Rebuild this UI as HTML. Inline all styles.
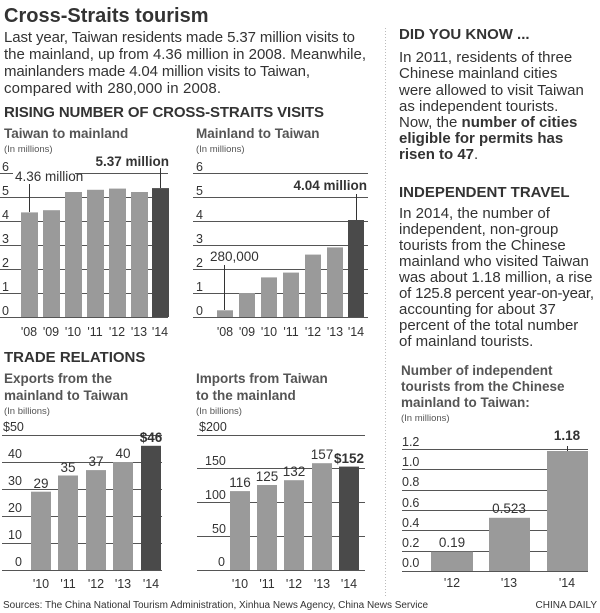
<!DOCTYPE html>
<html><head><meta charset="utf-8"><style>
body{margin:0;background:#fff}
svg{display:block}
text{font-family:"Liberation Sans",sans-serif;fill:#333}
.b{font-weight:bold}
.t{font-size:13.5px;font-weight:bold;fill:#555}
.s{font-size:9.5px;fill:#555}
.a{font-size:12.5px;fill:#777}
.p{font-size:15px;fill:#333}
.v{font-size:13.5px;fill:#333}
.g{stroke:#555;stroke-width:1}
.l{fill:#9a9a9a}.d{fill:#4a4a4a}
</style></head><body>
<svg width="600" height="613" viewBox="0 0 600 613" xmlns="http://www.w3.org/2000/svg">
<text x="4" y="22" class="b" font-size="20" fill="#222">Cross-Straits tourism</text>
<text class="p" x="4" y="42" textLength="351">Last year, Taiwan residents made 5.37 million visits to</text>
<text class="p" x="4" y="59" textLength="362">the mainland, up from 4.36 million in 2008. Meanwhile,</text>
<text class="p" x="4" y="76" textLength="306">mainlanders made 4.04 million visits to Taiwan,</text>
<text class="p" x="4" y="93" textLength="217">compared with 280,000 in 2008.</text>
<text x="4" y="117" class="b" font-size="15" textLength="320" fill="#222">RISING NUMBER OF CROSS-STRAITS VISITS</text>
<line x1="385.5" y1="28" x2="385.5" y2="598" stroke="#bbb" stroke-dasharray="1,2"/>

<!-- chart 1 -->
<text x="4" y="138" class="t">Taiwan to mainland</text>
<text x="4" y="152" class="s">(In millions)</text>
<g class="g">
<line x1="0" x2="168" y1="173.5" y2="173.5"/><line x1="0" x2="168" y1="197.5" y2="197.5"/><line x1="0" x2="168" y1="221.5" y2="221.5"/><line x1="0" x2="168" y1="245.5" y2="245.5"/><line x1="0" x2="168" y1="269.5" y2="269.5"/><line x1="0" x2="168" y1="293.5" y2="293.5"/><line x1="0" x2="168" y1="317.5" y2="317.5"/>
</g>
<g class="a"><text x="2" y="171">6</text><text x="2" y="195">5</text><text x="2" y="219">4</text><text x="2" y="243">3</text><text x="2" y="267">2</text><text x="2" y="291">1</text><text x="2" y="315">0</text></g>
<rect class="l" x="21" y="212.4" width="17" height="104.6"/>
<rect class="l" x="43" y="210.2" width="17" height="106.8"/>
<rect class="l" x="65" y="192" width="17" height="125"/>
<rect class="l" x="87" y="189.8" width="17" height="127.2"/>
<rect class="l" x="109" y="188.6" width="17" height="128.4"/>
<rect class="l" x="131" y="192" width="17" height="125"/>
<rect class="d" x="152" y="188.1" width="17" height="128.9"/>
<rect x="13" y="169" width="62" height="15" fill="#fff"/>
<text x="15" y="181" class="v">4.36 million</text>
<line x1="29.5" y1="184" x2="29.5" y2="212" stroke="#333"/>
<text x="169" y="166" class="v b" text-anchor="end">5.37 million</text>
<line x1="160.5" y1="168" x2="160.5" y2="188" stroke="#333"/>
<g class="a" text-anchor="middle"><text x="29" y="336">'08</text><text x="51" y="336">'09</text><text x="73" y="336">'10</text><text x="95" y="336">'11</text><text x="117" y="336">'12</text><text x="139" y="336">'13</text><text x="160" y="336">'14</text></g>

<!-- chart 2 -->
<text x="196" y="138" class="t">Mainland to Taiwan</text>
<text x="196" y="152" class="s">(In millions)</text>
<g class="g">
<line x1="193" x2="368" y1="173.5" y2="173.5"/><line x1="193" x2="368" y1="197.5" y2="197.5"/><line x1="193" x2="368" y1="221.5" y2="221.5"/><line x1="193" x2="368" y1="245.5" y2="245.5"/><line x1="193" x2="368" y1="269.5" y2="269.5"/><line x1="193" x2="368" y1="293.5" y2="293.5"/><line x1="193" x2="368" y1="317.5" y2="317.5"/>
</g>
<g class="a"><text x="196" y="171">6</text><text x="196" y="195">5</text><text x="196" y="219">4</text><text x="196" y="243">3</text><text x="196" y="267">2</text><text x="196" y="291">1</text><text x="196" y="315">0</text></g>
<rect class="l" x="217" y="310.3" width="16" height="6.7"/>
<rect class="l" x="239" y="293" width="16" height="24"/>
<rect class="l" x="261" y="277.4" width="16" height="39.6"/>
<rect class="l" x="283" y="272.6" width="16" height="44.4"/>
<rect class="l" x="305" y="254.6" width="16" height="62.4"/>
<rect class="l" x="327" y="247.4" width="16" height="69.6"/>
<rect class="d" x="348" y="220" width="16" height="97"/>
<text x="210" y="261" class="v">280,000</text>
<line x1="224.5" y1="265" x2="224.5" y2="310" stroke="#333"/>
<text x="367" y="190" class="v b" text-anchor="end">4.04 million</text>
<line x1="356.5" y1="194" x2="356.5" y2="220" stroke="#333"/>
<g class="a" text-anchor="middle"><text x="225" y="336">'08</text><text x="247" y="336">'09</text><text x="269" y="336">'10</text><text x="291" y="336">'11</text><text x="313" y="336">'12</text><text x="335" y="336">'13</text><text x="356" y="336">'14</text></g>

<!-- chart 3 -->
<text x="4" y="362" class="b" font-size="15" fill="#222">TRADE RELATIONS</text>
<text x="4" y="383" class="t">Exports from the</text>
<text x="4" y="400" class="t">mainland to Taiwan</text>
<text x="4" y="414" class="s">(In billions)</text>
<g class="g">
<line x1="2" x2="162" y1="435.5" y2="435.5"/><line x1="2" x2="162" y1="462.5" y2="462.5"/><line x1="2" x2="162" y1="489.5" y2="489.5"/><line x1="2" x2="162" y1="516.5" y2="516.5"/><line x1="2" x2="162" y1="543.5" y2="543.5"/><line x1="2" x2="162" y1="570.5" y2="570.5"/>
</g>
<g class="a"><text x="3" y="431">$50</text><text x="8" y="458">40</text><text x="8" y="485">30</text><text x="8" y="512">20</text><text x="8" y="539">10</text><text x="15" y="566">0</text></g>
<rect class="l" x="31" y="491.7" width="20" height="78.3"/>
<rect class="l" x="58" y="475.5" width="20" height="94.5"/>
<rect class="l" x="86" y="470.1" width="20" height="99.9"/>
<rect class="l" x="113" y="462" width="20" height="108"/>
<rect class="d" x="141" y="445.8" width="20" height="124.2"/>
<g class="v" text-anchor="middle"><text x="41" y="488">29</text><text x="68" y="472">35</text><text x="96" y="466">37</text><text x="123" y="458">40</text><text x="151" y="442" class="b">$46</text></g>
<g class="a" text-anchor="middle"><text x="41" y="588">'10</text><text x="68" y="588">'11</text><text x="96" y="588">'12</text><text x="123" y="588">'13</text><text x="151" y="588">'14</text></g>

<!-- chart 4 -->
<text x="196" y="383" class="t">Imports from Taiwan</text>
<text x="196" y="400" class="t">to the mainland</text>
<text x="196" y="414" class="s">(In billions)</text>
<g class="g">
<line x1="197" x2="365" y1="435.5" y2="435.5"/><line x1="197" x2="365" y1="468.5" y2="468.5"/><line x1="197" x2="365" y1="502.5" y2="502.5"/><line x1="197" x2="365" y1="536.5" y2="536.5"/><line x1="197" x2="365" y1="570.5" y2="570.5"/>
</g>
<g class="a"><text x="199" y="431">$200</text><text x="205" y="465">150</text><text x="205" y="499">100</text><text x="212" y="533">50</text><text x="218" y="566">0</text></g>
<rect class="l" x="230" y="491.1" width="20" height="78.9"/>
<rect class="l" x="257" y="485" width="20" height="85"/>
<rect class="l" x="284" y="480.2" width="20" height="89.8"/>
<rect class="l" x="312" y="463.2" width="20" height="106.8"/>
<rect class="d" x="339" y="466.6" width="20" height="103.4"/>
<g class="v" text-anchor="middle"><text x="240" y="487">116</text><text x="267" y="481">125</text><text x="294" y="476">132</text><text x="322" y="459">157</text><text x="349" y="463" class="b">$152</text></g>
<g class="a" text-anchor="middle"><text x="240" y="588">'10</text><text x="267" y="588">'11</text><text x="294" y="588">'12</text><text x="322" y="588">'13</text><text x="349" y="588">'14</text></g>

<text x="3" y="608" font-size="10" fill="#333" textLength="425">Sources: The China National Tourism Administration, Xinhua News Agency, China News Service</text>
<text x="597" y="608" font-size="10" fill="#333" text-anchor="end">CHINA DAILY</text>

<!-- right column -->
<text x="399" y="39" class="b" font-size="15" fill="#222">DID YOU KNOW ...</text>
<g class="p">
<text x="399" y="62">In 2011, residents of three</text>
<text x="399" y="78">Chinese mainland cities</text>
<text x="399" y="95">were allowed to visit Taiwan</text>
<text x="399" y="111">as independent tourists.</text>
<text x="399" y="127">Now, the <tspan class="b">number of cities</tspan></text>
<text x="399" y="143" class="b">eligible for permits has</text>
<text x="399" y="159"><tspan class="b">risen to 47</tspan>.</text>
</g>
<text x="399" y="197" class="b" font-size="15" fill="#222">INDEPENDENT TRAVEL</text>
<g class="p">
<text x="399" y="218">In 2014, the number of</text>
<text x="399" y="234">independent, non-group</text>
<text x="399" y="250">tourists from the Chinese</text>
<text x="399" y="266">mainland who visited Taiwan</text>
<text x="399" y="282">was about 1.18 million, a rise</text>
<text x="399" y="298" textLength="195">of 125.8 percent year-on-year,</text>
<text x="399" y="314">accounting for about 37</text>
<text x="399" y="330">percent of the total number</text>
<text x="399" y="346">of mainland tourists.</text>
</g>

<!-- chart 5 -->
<text x="401" y="375" class="t">Number of independent</text>
<text x="401" y="391" class="t">tourists from the Chinese</text>
<text x="401" y="407" class="t">mainland to Taiwan:</text>
<text x="401" y="421" class="s">(In millions)</text>
<g class="g">
<line x1="402" x2="588" y1="449.5" y2="449.5"/><line x1="402" x2="588" y1="469.5" y2="469.5"/><line x1="402" x2="588" y1="490.5" y2="490.5"/><line x1="402" x2="588" y1="510.5" y2="510.5"/><line x1="402" x2="588" y1="530.5" y2="530.5"/><line x1="402" x2="588" y1="551.5" y2="551.5"/><line x1="402" x2="588" y1="571.5" y2="571.5"/>
</g>
<g class="a"><text x="402" y="446">1.2</text><text x="402" y="466">1.0</text><text x="402" y="486">0.8</text><text x="402" y="507">0.6</text><text x="402" y="527">0.4</text><text x="402" y="547">0.2</text><text x="402" y="567">0.0</text></g>
<rect class="l" x="431" y="551.7" width="42" height="19.3"/>
<rect class="l" x="489" y="517.8" width="41" height="53.2"/>
<rect class="l" x="547" y="451" width="41" height="120"/>
<g class="v" text-anchor="middle"><text x="452" y="547">0.19</text><text x="509" y="513">0.523</text><text x="567" y="440" class="b">1.18</text></g>
<line x1="567.5" y1="446" x2="567.5" y2="451" stroke="#333"/>
<g class="a" text-anchor="middle"><text x="452" y="587">'12</text><text x="509" y="587">'13</text><text x="567" y="587">'14</text></g>
</svg>
</body></html>
